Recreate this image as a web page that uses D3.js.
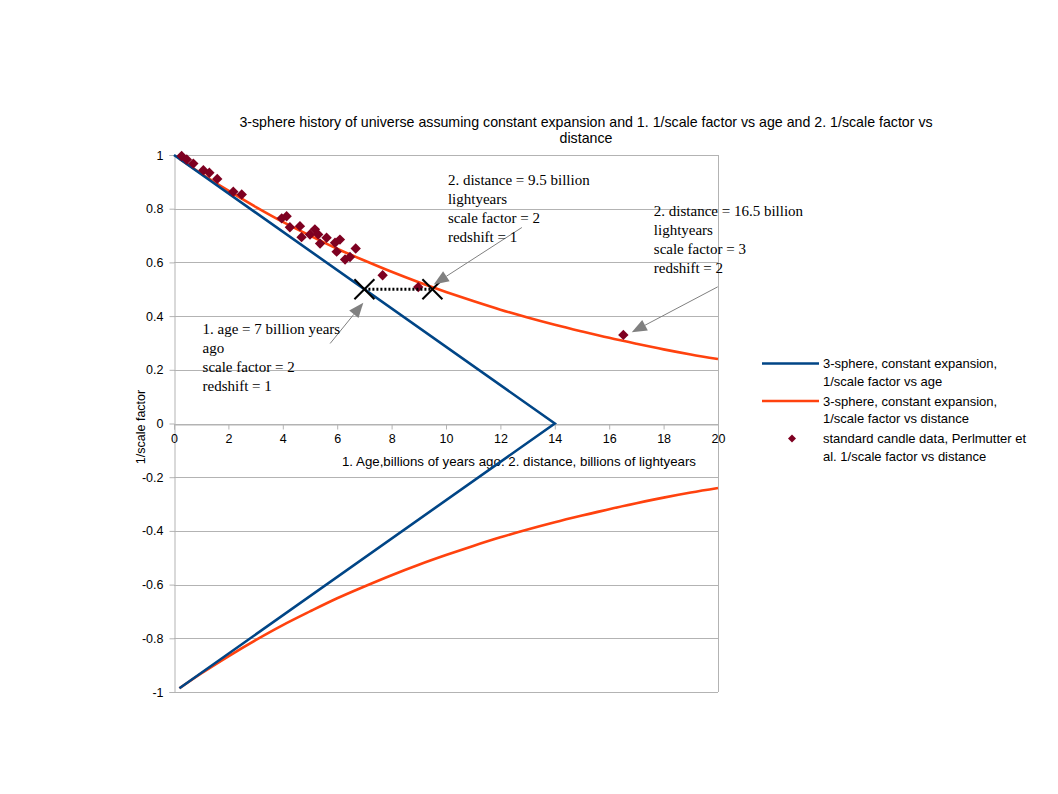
<!DOCTYPE html>
<html>
<head>
<meta charset="utf-8">
<script src="https://cdn.jsdelivr.net/npm/d3@7"></script>
<style>
  html, body { margin: 0; padding: 0; background: #fff; }
  svg { display: block; }
  text { font-family: "Liberation Sans", Arial, sans-serif; }
  .serif { font-family: "Liberation Serif", "Times New Roman", serif; }
</style>
</head>
<body>
<svg id="chart" width="1058" height="794"></svg>
<script>
// ---------------- DATA ----------------
const titleLines = [
  "3-sphere history of universe assuming constant expansion and 1. 1/scale factor vs age and 2. 1/scale factor vs",
  "distance"
];
const xTicks = [0, 2, 4, 6, 8, 10, 12, 14, 16, 18, 20];
const yTicks = [-1, -0.8, -0.6, -0.4, -0.2, 0, 0.2, 0.4, 0.6, 0.8, 1];
const yTickLabels = ["-1", "-0.8", "-0.6", "-0.4", "-0.2", "0", "0.2", "0.4", "0.6", "0.8", "1"];
const xLabel = "1. Age,billions of years ago. 2. distance, billions of lightyears";
const yLabel = "1/scale factor";

// Series 1: 3-sphere, constant expansion, 1/scale factor vs age
const ageX = [0, 14, 0.2];
const ageY = [1, 0, -0.986];

// Series 2: 3-sphere, constant expansion, 1/scale factor vs distance (upper and lower branch)
const distX = [0.2, 1, 2, 3, 4, 5, 6, 7, 8, 9, 10, 11, 12, 13, 14, 15, 16, 17, 18, 19, 20];
const distYUpper = [0.986, 0.931, 0.867, 0.807, 0.751, 0.700, 0.651, 0.607, 0.565, 0.526, 0.490,
                    0.456, 0.424, 0.395, 0.368, 0.343, 0.319, 0.297, 0.276, 0.257, 0.240];
const distYLower = [-0.986, -0.931, -0.867, -0.807, -0.751, -0.700, -0.651, -0.607, -0.565, -0.526, -0.490,
                    -0.456, -0.424, -0.395, -0.368, -0.343, -0.319, -0.297, -0.276, -0.257, -0.240];

// Series 3: standard candle data, Perlmutter et al.
const candleX = [0.28, 0.47, 0.71, 1.08, 1.30, 1.59, 2.18, 2.49, 3.96, 4.14, 4.26, 4.63, 4.69, 5.00,
                 5.18, 5.30, 5.37, 5.61, 5.92, 5.98, 6.10, 6.29, 6.47, 6.68, 7.67, 8.98, 16.52];
const candleY = [0.996, 0.983, 0.968, 0.943, 0.934, 0.911, 0.863, 0.853, 0.764, 0.772, 0.731, 0.735,
                 0.694, 0.704, 0.723, 0.704, 0.670, 0.692, 0.673, 0.640, 0.685, 0.611, 0.620, 0.652,
                 0.552, 0.508, 0.330];

const seriesNames = [
  ["3-sphere, constant expansion,", "1/scale factor vs age"],
  ["3-sphere, constant expansion,", "1/scale factor vs distance"],
  ["standard candle data, Perlmutter et", "al. 1/scale factor vs distance"]
];

// Annotations (data coordinates)
const markX = [7, 9.5];
const markY = [0.5, 0.5];
const annoText = [
  ["1. age = 7 billion years", "ago", "scale factor = 2", "redshift = 1"],
  ["2. distance = 9.5 billion", "lightyears", "scale factor = 2", "redshift = 1"],
  ["2. distance = 16.5 billion", "lightyears", "scale factor = 3", "redshift = 2"]
];
const annoTextX = [1.05, 10.07, 17.64];
const annoTextY = [0.334, 0.889, 0.772];
const arrowFromX = [5.74, 12.79, 19.99];
const arrowFromY = [0.298, 0.730, 0.509];
const arrowToX = [6.96, 9.55, 16.83];
const arrowToY = [0.450, 0.518, 0.340];

// ---------------- DRAW ----------------
const colors = { age: "#004586", dist: "#ff420e", candle: "#7e0021", grid: "#b3b3b3" };
const svg = d3.select("#chart");

const x = d3.scaleLinear().domain([0, 20]).range([174, 718]);
const y = d3.scaleLinear().domain([-1, 1]).range([692, 155]);

// title
svg.append("g").selectAll("text").data(titleLines).join("text")
  .attr("x", 586).attr("y", (d, i) => 126.5 + i * 16)
  .attr("text-anchor", "middle").attr("font-size", 14.2).attr("fill", "#000")
  .text(d => d);

// gridlines
svg.append("g").selectAll("line").data(yTicks).join("line")
  .attr("x1", x(0)).attr("x2", x(20))
  .attr("y1", d => Math.round(y(d)) + 0.5).attr("y2", d => Math.round(y(d)) + 0.5)
  .attr("stroke", colors.grid).attr("stroke-width", 1);

// plot border (right)
svg.append("line").attr("x1", x(20) + 0.5).attr("x2", x(20) + 0.5)
  .attr("y1", y(1)).attr("y2", y(-1)).attr("stroke", colors.grid);

// y axis
const yAxis = svg.append("g").attr("transform", `translate(${Math.round(x(0)) + 0.5},0)`)
  .call(d3.axisLeft(y).tickValues(yTicks).tickSize(5).tickPadding(6)
        .tickFormat((d, i) => yTickLabels[i]));
yAxis.select(".domain").attr("stroke", colors.grid);
yAxis.selectAll(".tick line").attr("stroke", colors.grid);
yAxis.selectAll(".tick text").attr("font-size", 12.5).attr("fill", "#000")
  .attr("font-family", "Liberation Sans, Arial, sans-serif");

// x axis along y=0
const xAxis = svg.append("g").attr("transform", `translate(0,${Math.round(y(0)) + 0.5})`)
  .call(d3.axisBottom(x).tickValues(xTicks).tickSize(5).tickPadding(5));
xAxis.select(".domain").attr("stroke", colors.grid);
xAxis.selectAll(".tick line").attr("stroke", colors.grid);
xAxis.selectAll(".tick text").attr("font-size", 12.5).attr("fill", "#000")
  .attr("font-family", "Liberation Sans, Arial, sans-serif");

// axis labels
svg.append("text").attr("x", 519).attr("y", 465.5).attr("text-anchor", "middle")
  .attr("font-size", 13.3).text(xLabel);
svg.append("text").attr("transform", "translate(145,427) rotate(-90)")
  .attr("text-anchor", "middle").attr("font-size", 12.5).text(yLabel);

// lines
const line = d3.line().x(d => x(d[0])).y(d => y(d[1]));
const smooth = d3.line().x(d => x(d[0])).y(d => y(d[1])).curve(d3.curveMonotoneX);

svg.append("path").datum(distX.map((v, i) => [v, distYUpper[i]]))
  .attr("d", smooth).attr("fill", "none").attr("stroke", colors.dist).attr("stroke-width", 2.6);
svg.append("path").datum(distX.map((v, i) => [v, distYLower[i]]))
  .attr("d", smooth).attr("fill", "none").attr("stroke", colors.dist).attr("stroke-width", 2.6);
svg.append("path").datum(ageX.map((v, i) => [v, ageY[i]]))
  .attr("d", line).attr("fill", "none").attr("stroke", colors.age).attr("stroke-width", 2.6)
  .attr("stroke-linejoin", "miter");

// candle diamonds
const diamond = (cx, cy, r) => `M${cx},${cy - r}L${cx + r},${cy}L${cx},${cy + r}L${cx - r},${cy}Z`;
svg.append("g").selectAll("path").data(candleX.map((v, i) => [v, candleY[i]])).join("path")
  .attr("d", d => diamond(x(d[0]), y(d[1]), 5.2)).attr("fill", colors.candle);

// dotted connector and X marks
svg.append("line")
  .attr("x1", x(markX[0])).attr("x2", x(markX[1]))
  .attr("y1", y(markY[0])).attr("y2", y(markY[1]))
  .attr("stroke", "#000").attr("stroke-width", 3).attr("stroke-dasharray", "2,2");
const xm = svg.append("g");
markX.forEach((mx, i) => {
  const cx = x(mx), cy = y(markY[i]), h = 10;
  xm.append("line").attr("x1", cx - h).attr("y1", cy - h).attr("x2", cx + h).attr("y2", cy + h)
    .attr("stroke", "#000").attr("stroke-width", 2);
  xm.append("line").attr("x1", cx - h).attr("y1", cy + h).attr("x2", cx + h).attr("y2", cy - h)
    .attr("stroke", "#000").attr("stroke-width", 2);
});

// arrows
const ag = svg.append("g");
arrowFromX.forEach((fx, i) => {
  const x1 = x(fx), y1 = y(arrowFromY[i]), x2 = x(arrowToX[i]), y2 = y(arrowToY[i]);
  const ang = Math.atan2(y2 - y1, x2 - x1);
  const L = 15, W = 6;
  const bx = x2 - L * Math.cos(ang), by = y2 - L * Math.sin(ang);
  ag.append("line").attr("x1", x1).attr("y1", y1).attr("x2", bx).attr("y2", by)
    .attr("stroke", "#808080").attr("stroke-width", 1);
  const px = -Math.sin(ang) * W, py = Math.cos(ang) * W;
  ag.append("path").attr("d", `M${x2},${y2}L${bx + px},${by + py}L${bx - px},${by - py}Z`)
    .attr("fill", "#808080");
});

// annotation texts
annoText.forEach((lines, i) => {
  svg.append("g").selectAll("text").data(lines).join("text")
    .attr("class", "serif")
    .attr("x", x(annoTextX[i])).attr("y", (d, j) => y(annoTextY[i]) + j * 19)
    .attr("font-size", 15).attr("fill", "#000").text(d => d);
});

// legend
const leg = svg.append("g");
const legY = [363.5, 401, 438.5];
leg.append("line").attr("x1", 762).attr("x2", 819).attr("y1", legY[0]).attr("y2", legY[0])
  .attr("stroke", colors.age).attr("stroke-width", 2.6);
leg.append("line").attr("x1", 762).attr("x2", 819).attr("y1", legY[1]).attr("y2", legY[1])
  .attr("stroke", colors.dist).attr("stroke-width", 2.6);
leg.append("path").attr("d", diamond(792, legY[2], 4)).attr("fill", colors.candle);
seriesNames.forEach((lines, i) => {
  leg.append("g").selectAll("text").data(lines).join("text")
    .attr("x", 823).attr("y", (d, j) => legY[i] + 4.5 + j * 17.5)
    .attr("font-size", 13).attr("fill", "#000").text(d => d);
});
</script>
</body>
</html>
